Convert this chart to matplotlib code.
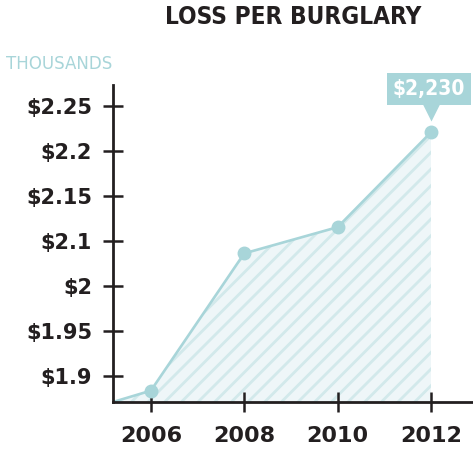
import matplotlib
matplotlib.use("Agg")
from matplotlib import pyplot as plt
from matplotlib import transforms
import numpy as np

years = [2006, 2008, 2010, 2012]
loss = [1.881, 2.059, 2.093, 2.216]
callout = "$2,230"
ytick_vals = np.linspace(1.9, 2.25, 7)
ytick_labels = ["$1.9", "$1.95", "$2", "$2.1", "$2.15", "$2.2", "$2.25"]

dark = '#231f20'
teal = '#a8d5d9'
narrow = ['DejaVu Sans', 'Liberation Sans Narrow']

fig = plt.figure(figsize=(4.73, 4.65), dpi=100)
ax = fig.add_axes([0.239, 0.1355, 0.761, 0.6815])
ax.set_xlim(2005.19, 2012.9)
ax.set_ylim(1.8663, 2.2772)
x0, y0 = ax.get_xlim()[0], ax.get_ylim()[0]

xs = [x0] + years
ys = [y0] + loss
plt.rcParams['hatch.linewidth'] = 2.0
ax.fill_between(xs, ys, y0, facecolor='#eef6f8', edgecolor='#d2e9eb', hatch='//', linewidth=0, zorder=1)
ax.plot(xs, ys, color=teal, lw=1.9, zorder=2)
ax.plot(years, loss, 'o', color=teal, ms=9, zorder=3)

for s in ['top', 'right']:
	ax.spines[s].set_visible(False)
for s in ['left', 'bottom']:
	ax.spines[s].set_color(dark)
	ax.spines[s].set_linewidth(2)
ax.set_yticks(ytick_vals)
ax.set_yticklabels(ytick_labels)
ax.set_xticks(years)
ax.set_xticklabels([str(y) for y in years])
ax.tick_params(axis='y', direction='inout', length=14, width=1.8, color=dark, pad=8)
ax.tick_params(axis='x', direction='inout', length=14, width=1.8, color=dark, pad=10)
for lab in ax.get_yticklabels():
	lab.set_fontsize(15)
	lab.set_fontweight('bold')
	lab.set_color(dark)
for lab in ax.get_xticklabels():
	lab.set_fontsize(16)
	lab.set_fontweight('bold')
	lab.set_color(dark)

# callout box over the last point
ax.annotate(callout, (years[-1], loss[-1]), xytext=(-2, 43), textcoords='offset pixels',
	ha='center', va='center', color='white', fontsize=15, fontweight='bold',
	family=narrow, fontstretch='condensed',
	bbox=dict(boxstyle='square,pad=0.28', fc=teal, ec='none'), zorder=5)
tri = transforms.offset_copy(ax.transData, fig, x=0, y=20, units='dots')
ax.plot([years[-1]], [loss[-1]], marker='v', ms=13, color=teal, mec='none',
	transform=tri, clip_on=False, zorder=4)

fig.text(0.62, 0.963, "LOSS PER BURGLARY", ha='center', va='center', fontsize=17.5,
	fontweight='bold', color=dark, family=narrow, fontstretch='condensed')
fig.text(0.013, 0.863, "THOUSANDS", ha='left', va='center', fontsize=13.3,
	color=teal, family=narrow, fontstretch='condensed')

fig.savefig('out.png', dpi=100)
